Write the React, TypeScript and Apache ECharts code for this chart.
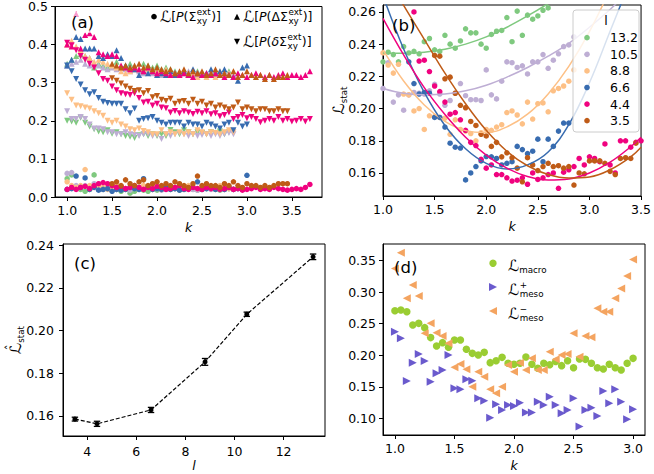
import React, { useEffect, useRef } from "react";
import * as echarts from "echarts";

const FONT = "DejaVu Sans";
const FS = 12.5;
const SUBFS = 8.75;
const LCAL = 15.5;

// k grid (step 0.05)
const K = [1.0, 1.05, 1.1, 1.15, 1.2, 1.25, 1.3, 1.35, 1.4, 1.45, 1.5, 1.55, 1.6, 1.65, 1.7, 1.75, 1.8, 1.85, 1.9, 1.95,
  2.0, 2.05, 2.1, 2.15, 2.2, 2.25, 2.3, 2.35, 2.4, 2.45, 2.5, 2.55, 2.6, 2.65, 2.7, 2.75, 2.8, 2.85, 2.9, 2.95,
  3.0, 3.05, 3.1, 3.15, 3.2, 3.25, 3.3, 3.35, 3.4, 3.45, 3.5, 3.55, 3.6, 3.65, 3.7];

const L_LABELS = ["13.2", "10.5", "8.8", "6.6", "4.4", "3.5"];
const L_COLORS = ["#7fc97f", "#beaed4", "#fdc086", "#386cb0", "#f0027f", "#bf5b17"];

// ---------- panel (a) ----------
const A_START = [1.0, 1.0, 1.0, 1.0, 1.0, 1.5];

const A_SIG_132 = [0.048, 0.058, 0.025, 0.02, 0.015, 0.02, 0.058, 0.025, 0.02, 0.022, 0.018, 0.02, 0.015, 0.02, 0.01, 0.015, 0.02, 0.018, 0.015, 0.02, 0.018, 0.025, 0.03, 0.02, 0.022, 0.018, 0.02, 0.025, 0.02, 0.018, 0.02, 0.022, 0.025, 0.02, 0.018, 0.02, 0.022];
const A_SIG_105 = [0.062, 0.064, 0.03, 0.025, 0.03, 0.025, 0.035, 0.025, 0.02, 0.025, 0.022, 0.02, 0.025, 0.022, 0.018, 0.025, 0.02, 0.022, 0.025, 0.02, 0.022, 0.018, 0.02, 0.025, 0.022, 0.02, 0.025, 0.022, 0.02, 0.018, 0.022, 0.025, 0.02, 0.022, 0.025, 0.02, 0.022, 0.02];
const A_SIG_88 = [0.04, 0.03, 0.025, 0.03, 0.072, 0.03, 0.025, 0.03, 0.025, 0.02, 0.025, 0.03, 0.025, 0.022, 0.025, 0.028, 0.025, 0.03, 0.025, 0.022, 0.025, 0.02, 0.025, 0.028, 0.025, 0.022, 0.025, 0.03, 0.025, 0.022, 0.025, 0.028, 0.025, 0.022, 0.03, 0.025, 0.022, 0.02];
const A_SIG_66 = [0.02, 0.022, 0.055, 0.025, 0.05, 0.02, 0.025, 0.018, 0.02, 0.022, 0.015, 0.02, 0.018, 0.02, 0.025, 0.022, 0.02, 0.048, 0.025, 0.02, 0.022, 0.02, 0.025, 0.02, 0.022, 0.018, 0.02, 0.022, 0.025, 0.04, 0.02, 0.022, 0.025, 0.02, 0.022, 0.02, 0.025, 0.02, 0.022, 0.02, 0.057];
const A_SIG_44 = [0.02, 0.025, 0.02, 0.025, 0.028, 0.022, 0.03, 0.035, 0.038, 0.035, 0.03, 0.025, 0.028, 0.022, 0.025, 0.03, 0.025, 0.02, 0.025, 0.022, 0.028, 0.025, 0.02, 0.022, 0.025, 0.03, 0.022, 0.02, 0.025, 0.022, 0.02, 0.025, 0.022, 0.025, 0.02, 0.022, 0.025, 0.02, 0.022, 0.018, 0.02, 0.022, 0.025, 0.02, 0.022, 0.02, 0.025, 0.022, 0.02, 0.018, 0.02, 0.022, 0.02, 0.025, 0.033];
const A_SIG_35 = [0.035, 0.04, 0.03, 0.045, 0.035, 0.03, 0.04, 0.045, 0.03, 0.035, 0.04, 0.03, 0.035, 0.03, 0.04, 0.035, 0.03, 0.025, 0.035, 0.055, 0.03, 0.035, 0.03, 0.03, 0.025, 0.035, 0.03, 0.04, 0.03, 0.025, 0.035, 0.03, 0.03, 0.025, 0.03, 0.025, 0.03, 0.035, 0.035, 0.035];

const A_DEL_132 = [0.35, 0.36, 0.37, 0.375, 0.37, 0.365, 0.34, 0.35, 0.345, 0.34, 0.345, 0.355, 0.34, 0.345, 0.35, 0.34, 0.335, 0.35, 0.345, 0.34, 0.345, 0.335, 0.34, 0.335, 0.33, 0.325, 0.33, 0.325, 0.32, 0.33, 0.325, 0.32, 0.325, 0.33, 0.325, 0.32, 0.33];
const A_DEL_105 = [0.345, 0.35, 0.355, 0.36, 0.35, 0.345, 0.35, 0.345, 0.34, 0.335, 0.34, 0.335, 0.34, 0.335, 0.33, 0.335, 0.33, 0.325, 0.33, 0.325, 0.33, 0.32, 0.325, 0.32, 0.325, 0.32, 0.325, 0.33, 0.32, 0.325, 0.32, 0.325, 0.33, 0.32, 0.325, 0.33, 0.325, 0.32];
const A_DEL_88 = [0.40, 0.41, 0.395, 0.385, 0.37, 0.365, 0.355, 0.36, 0.355, 0.35, 0.345, 0.34, 0.33, 0.325, 0.33, 0.335, 0.335, 0.33, 0.335, 0.33, 0.33, 0.325, 0.335, 0.33, 0.32, 0.325, 0.33, 0.32, 0.325, 0.315, 0.32, 0.315, 0.32, 0.315, 0.33, 0.32, 0.325, 0.33];
const A_DEL_66 = [0.345, 0.36, 0.42, 0.415, 0.39, 0.39, 0.39, 0.37, 0.365, 0.375, 0.37, 0.385, 0.365, 0.345, 0.34, 0.335, 0.32, 0.33, 0.325, 0.33, 0.32, 0.325, 0.32, 0.33, 0.32, 0.325, 0.33, 0.32, 0.335, 0.325, 0.32, 0.325, 0.335, 0.325, 0.33, 0.335, 0.32, 0.315, 0.305, 0.34, 0.345];
const A_DEL_44 = [0.40, 0.395, 0.48, 0.39, 0.425, 0.43, 0.42, 0.38, 0.375, 0.37, 0.375, 0.37, 0.345, 0.34, 0.335, 0.34, 0.335, 0.33, 0.34, 0.33, 0.325, 0.33, 0.325, 0.32, 0.325, 0.32, 0.325, 0.32, 0.315, 0.325, 0.32, 0.325, 0.32, 0.325, 0.32, 0.315, 0.32, 0.315, 0.325, 0.32, 0.315, 0.32, 0.325, 0.32, 0.315, 0.32, 0.315, 0.32, 0.325, 0.315, 0.32, 0.32, 0.315, 0.32, 0.33];
const A_DEL_35 = [0.35, 0.345, 0.34, 0.345, 0.34, 0.345, 0.35, 0.34, 0.345, 0.335, 0.34, 0.335, 0.33, 0.335, 0.325, 0.33, 0.335, 0.325, 0.33, 0.325, 0.33, 0.32, 0.325, 0.335, 0.32, 0.325, 0.32, 0.33, 0.315, 0.32, 0.33, 0.32, 0.315, 0.32, 0.31, 0.32, 0.31, 0.315, 0.315, 0.32];

const A_LOW_132 = [0.2, 0.198, 0.195, 0.208, 0.195, 0.185, 0.178, 0.172, 0.17, 0.175, 0.166, 0.17, 0.165, 0.16, 0.158, 0.155, 0.162, 0.165, 0.16, 0.165, 0.16, 0.165, 0.16, 0.176, 0.17, 0.165, 0.175, 0.17, 0.165, 0.17, 0.168, 0.165, 0.17, 0.168, 0.172, 0.165, 0.17];
const A_LOW_105 = [0.225, 0.205, 0.205, 0.21, 0.205, 0.19, 0.18, 0.18, 0.178, 0.17, 0.17, 0.165, 0.165, 0.17, 0.165, 0.163, 0.16, 0.165, 0.165, 0.16, 0.163, 0.152, 0.165, 0.16, 0.165, 0.168, 0.165, 0.16, 0.165, 0.16, 0.163, 0.165, 0.16, 0.165, 0.16, 0.165, 0.168, 0.165];
const A_LOW_88 = [0.272, 0.255, 0.24, 0.238, 0.235, 0.232, 0.225, 0.22, 0.213, 0.2, 0.195, 0.2, 0.19, 0.185, 0.178, 0.175, 0.18, 0.173, 0.17, 0.165, 0.165, 0.175, 0.165, 0.17, 0.165, 0.17, 0.165, 0.17, 0.165, 0.175, 0.17, 0.165, 0.17, 0.168, 0.165, 0.17, 0.175, 0.17];
const A_LOW_66 = [0.345, 0.33, 0.31, 0.295, 0.28, 0.27, 0.275, 0.26, 0.25, 0.247, 0.245, 0.245, 0.245, 0.23, 0.22, 0.232, 0.2, 0.205, 0.207, 0.21, 0.2, 0.195, 0.19, 0.195, 0.195, 0.195, 0.185, 0.195, 0.19, 0.19, 0.185, 0.195, 0.19, 0.185, 0.18, 0.19, 0.195, 0.175, 0.195, 0.185, 0.19];
const A_LOW_44 = [0.405, 0.398, 0.385, 0.37, 0.36, 0.35, 0.34, 0.325, 0.31, 0.305, 0.29, 0.28, 0.272, 0.27, 0.268, 0.272, 0.26, 0.248, 0.25, 0.24, 0.245, 0.235, 0.233, 0.222, 0.226, 0.22, 0.225, 0.222, 0.218, 0.224, 0.22, 0.225, 0.217, 0.22, 0.212, 0.215, 0.222, 0.205, 0.21, 0.215, 0.207, 0.21, 0.205, 0.196, 0.2, 0.205, 0.2, 0.21, 0.2, 0.205, 0.198, 0.2, 0.205, 0.198, 0.205];
const A_LOW_35 = [0.312, 0.305, 0.298, 0.29, 0.284, 0.278, 0.28, 0.272, 0.278, 0.262, 0.265, 0.255, 0.252, 0.258, 0.245, 0.25, 0.252, 0.245, 0.255, 0.245, 0.25, 0.24, 0.245, 0.235, 0.24, 0.235, 0.23, 0.235, 0.248, 0.23, 0.235, 0.23, 0.225, 0.23, 0.23, 0.225, 0.225, 0.23, 0.225, 0.225];

const A_SIG = [A_SIG_132, A_SIG_105, A_SIG_88, A_SIG_66, A_SIG_44, A_SIG_35];
const A_DEL = [A_DEL_132, A_DEL_105, A_DEL_88, A_DEL_66, A_DEL_44, A_DEL_35];
const A_LOW = [A_LOW_132, A_LOW_105, A_LOW_88, A_LOW_66, A_LOW_44, A_LOW_35];

const A_XTICKS = [1.0, 1.5, 2.0, 2.5, 3.0, 3.5];
const A_YTICKS = [0.0, 0.1, 0.2, 0.3, 0.4, 0.5];

// ---------- panel (b) ----------
const B_START = [1.0, 1.0, 1.0, 1.25, 1.3, 1.5];
const B_132 = [0.229, 0.235, 0.2335, 0.229, 0.2385, 0.2345, 0.2355, 0.234, 0.2415, 0.2435, 0.2365, 0.2355, 0.2455, 0.240, 0.2375, 0.242, 0.2495, 0.247, 0.247, 0.240, 0.2375, 0.246, 0.248, 0.2485, 0.2565, 0.2415, 0.2605, 0.2455, 0.258, 0.2555, 0.2575, 0.261, 0.2625];
const B_105 = [0.2125, 0.2285, 0.2040, 0.2085, 0.1990, 0.2085, 0.2100, 0.2095, 0.2090, 0.2110, 0.2150, 0.2090, 0.2020, 0.2050, 0.2095, 0.2155, 0.2080, 0.2055, 0.2055, 0.2050, 0.2240, 0.2085, 0.2060, 0.2170, 0.2290, 0.2285, 0.2255, 0.2265, 0.2215, 0.2290, 0.2290, 0.2335, 0.2250, 0.2300, 0.2340, 0.2385, 0.2395, 0.2445];
const B_88 = [0.2345, 0.2270, 0.2220, 0.2275, 0.2090, 0.2085, 0.1985, 0.2000, 0.1870, 0.1955, 0.1950, 0.1945, 0.1940, 0.1840, 0.1930, 0.1870, 0.1860, 0.1845, 0.1800, 0.1850, 0.1870, 0.1865, 0.1885, 0.1900, 0.1975, 0.1985, 0.1960, 0.1905, 0.2040, 0.1935, 0.2030, 0.2035, 0.1980, 0.2110, 0.2125, 0.2140, 0.2170, 0.2240];
const B_66 = [0.2290, 0.2155, 0.2090, 0.2100, 0.2095, 0.1945, 0.1945, 0.1885, 0.1785, 0.1760, 0.1755, 0.1557, 0.1600, 0.1640, 0.1675, 0.1702, 0.1700, 0.1690, 0.1650, 0.1660, 0.1670, 0.1765, 0.1745, 0.1720, 0.1735, 0.1810, 0.1670, 0.1810, 0.1765, 0.1860, 0.1910, 0.1910];
const B_44 = [0.2600, 0.2295, 0.2300, 0.2230, 0.2140, 0.2105, 0.2040, 0.1965, 0.1975, 0.1930, 0.1865, 0.1790, 0.1770, 0.1685, 0.1630, 0.1650, 0.1590, 0.1590, 0.1570, 0.1550, 0.1555, 0.1570, 0.1530, 0.1600, 0.1560, 0.1570, 0.1590, 0.1600, 0.1505, 0.1605, 0.1620, 0.1640, 0.1690, 0.1650, 0.1700, 0.1690, 0.1670, 0.1780, 0.1650, 0.1600, 0.1800, 0.1800, 0.1760, 0.1790, 0.1800];
const B_35 = [0.2330, 0.2325, 0.2185, 0.2195, 0.2095, 0.2020, 0.2005, 0.1920, 0.1895, 0.1840, 0.1830, 0.1765, 0.1790, 0.1700, 0.1725, 0.1695, 0.1630, 0.1545, 0.1695, 0.1650, 0.1615, 0.1640, 0.1660, 0.1640, 0.1645, 0.1630, 0.1640, 0.1525, 0.1600, 0.1595, 0.1675, 0.1675, 0.1675, 0.1660, 0.1610, 0.1590, 0.1690, 0.1695, 0.1690, 0.1785];
const B_PTS = [B_132, B_105, B_88, B_66, B_44, B_35];

const FIT_132_K = [1.0, 1.2, 1.4, 1.6, 1.8, 2.0, 2.2, 2.4, 2.6, 2.7];
const FIT_132_V = [0.2345, 0.2343, 0.2350, 0.2368, 0.2400, 0.2445, 0.2505, 0.2575, 0.2652, 0.2695];
const FIT_105_K = [1.0, 1.2, 1.4, 1.6, 1.8, 2.0, 2.2, 2.4, 2.6, 2.8, 3.0, 3.2, 3.3];
const FIT_105_V = [0.2125, 0.2095, 0.2085, 0.2090, 0.2110, 0.2145, 0.2195, 0.2255, 0.2325, 0.2405, 0.2505, 0.2615, 0.2680];
const FIT_88_K = [1.0, 1.2, 1.4, 1.6, 1.8, 2.0, 2.2, 2.4, 2.6, 2.8, 3.0, 3.2];
const FIT_88_V = [0.2364, 0.2171, 0.2022, 0.1920, 0.1863, 0.1851, 0.1886, 0.1965, 0.2091, 0.2262, 0.2478, 0.2741];
const FIT_66_K = [1.0, 1.2, 1.4, 1.6, 1.8, 2.0, 2.2, 2.4, 2.6, 2.8, 3.0, 3.2, 3.35];
const FIT_66_V = [0.2700, 0.2370, 0.2100, 0.1895, 0.1750, 0.1660, 0.1625, 0.1650, 0.1730, 0.1900, 0.2160, 0.2480, 0.2720];
const FIT_44_K = [1.0, 1.2, 1.4, 1.6, 1.8, 2.0, 2.2, 2.4, 2.6, 2.8, 3.0, 3.2, 3.4, 3.5];
const FIT_44_V = [0.2560, 0.2333, 0.2130, 0.1963, 0.1822, 0.1711, 0.1630, 0.1578, 0.1556, 0.1563, 0.1600, 0.1667, 0.1763, 0.1822];
const FIT_35_K = [1.15, 1.2, 1.4, 1.6, 1.8, 2.0, 2.2, 2.4, 2.6, 2.8, 3.0, 3.2, 3.4, 3.5];
const FIT_35_V = [0.2700, 0.2640, 0.2430, 0.2220, 0.2030, 0.1865, 0.1735, 0.1645, 0.1590, 0.1568, 0.1575, 0.1620, 0.1700, 0.1760];
const FIT_K = [FIT_132_K, FIT_105_K, FIT_88_K, FIT_66_K, FIT_44_K, FIT_35_K];
const FIT_V = [FIT_132_V, FIT_105_V, FIT_88_V, FIT_66_V, FIT_44_V, FIT_35_V];

const B_XTICKS = [1.0, 1.5, 2.0, 2.5, 3.0, 3.5];
const B_YTICKS = [0.16, 0.18, 0.20, 0.22, 0.24, 0.26];

// ---------- panel (c) ----------
const C_L = [3.5, 4.4, 6.6, 8.8, 10.5, 13.2];
const C_LHAT = [0.1585, 0.1563, 0.1628, 0.1853, 0.2076, 0.2345];
const C_ERR = [0.0009, 0.0012, 0.0012, 0.0016, 0.0010, 0.0013];
const C_XTICKS = [4, 6, 8, 10, 12];
const C_YTICKS = [0.16, 0.18, 0.20, 0.22, 0.24];

// ---------- panel (d) ----------
const D_K = K.slice(0, 41);
const D_MACRO = [0.2707, 0.2718, 0.2690, 0.2480, 0.2506, 0.2438, 0.2280, 0.2147, 0.2200, 0.2126, 0.2242, 0.2242, 0.2094, 0.2030, 0.2004, 0.2046, 0.1883, 0.1914, 0.1967, 0.1872, 0.1856, 0.1872, 0.1972, 0.1856, 0.1793, 0.1872, 0.1850, 0.1900, 0.1835, 0.1914, 0.1803, 0.1941, 0.1935, 0.1872, 0.1803, 0.1782, 0.1856, 0.1803, 0.1766, 0.1872, 0.1951];
const D_MESO_P = [0.2374, 0.2268, 0.1592, 0.1883, 0.2020, 0.1909, 0.1581, 0.1714, 0.1766, 0.2004, 0.1476, 0.1460, 0.1618, 0.1597, 0.1317, 0.1280, 0.1010, 0.1222, 0.1132, 0.1211, 0.1196, 0.1248, 0.1090, 0.1090, 0.1264, 0.1211, 0.1343, 0.1211, 0.1079, 0.1132, 0.1317, 0.0868, 0.1132, 0.1169, 0.1037, 0.1434, 0.1238, 0.1460, 0.1264, 0.0984, 0.1143];
const D_MESO_M = [0.3378, 0.3627, 0.2903, 0.3114, 0.2940, 0.2348, 0.2506, 0.2358, 0.2306, 0.2189, 0.1809, 0.1862, 0.1777, 0.1500, 0.1740, 0.1660, 0.1460, 0.1396, 0.1500, 0.1846, 0.1740, 0.1883, 0.1766, 0.1951, 0.1766, 0.1766, 0.2057, 0.1935, 0.2004, 0.2020, 0.2348, 0.1978, 0.2306, 0.2284, 0.2744, 0.2691, 0.2691, 0.2903, 0.3061, 0.3257, 0.3521];
const D_COLORS = ["#9acd32", "#6a5acd", "#f4a460"];
const D_XTICKS = [1.0, 1.5, 2.0, 2.5, 3.0];
const D_YTICKS = [0.10, 0.15, 0.20, 0.25, 0.30, 0.35];

// ---------- helpers ----------
let measureCtx: CanvasRenderingContext2D | null = null;
function tw(t: string, size: number, italic = false): number {
  if (!measureCtx && typeof document !== "undefined") {
    measureCtx = document.createElement("canvas").getContext("2d");
  }
  if (!measureCtx) return t.length * size * 0.6;
  measureCtx.font = `${italic ? "italic " : ""}${size}px "${FONT}"`;
  return measureCtx.measureText(t).width;
}

function txt(text: string, x: number, y: number, size: number, italic = false, extra: any = {}) {
  return {
    type: "text",
    x,
    y,
    z: 100,
    silent: true,
    style: {
      text,
      fontSize: size,
      fontFamily: FONT,
      fontStyle: italic ? "italic" : "normal",
      fill: "#000",
      align: "left",
      verticalAlign: "middle",
      textAlign: "left",
      textVerticalAlign: "middle",
      ...extra,
    },
  };
}

type Piece = { t?: string; italic?: boolean; size?: number; dy?: number; sup?: string; sub?: string; hat?: boolean };

function mathText(pieces: Piece[], x: number, y: number, anchor: "left" | "center", rotation = 0) {
  const kids: any[] = [];
  let cx = 0;
  for (const p of pieces) {
    if (p.sup !== undefined || p.sub !== undefined) {
      const w = Math.max(tw(p.sup || "", SUBFS), tw(p.sub || "", SUBFS));
      if (p.sup) kids.push(txt(p.sup, cx + 0.5, -4.8, SUBFS));
      if (p.sub) kids.push(txt(p.sub, cx + 0.5, 4.6, SUBFS));
      cx += w + 1;
    } else {
      const s = p.size ?? FS;
      const t = p.t || "";
      const w = tw(t, s, !!p.italic);
      kids.push(txt(t, cx, p.dy ?? 0, s, !!p.italic));
      if (p.hat) {
        const hw = tw("ˆ", FS);
        kids.push(txt("ˆ", cx + w / 2 - hw / 2 + 1, -s * 0.36, FS));
      }
      cx += w;
    }
  }
  const off = anchor === "center" ? -cx / 2 : 0;
  kids.forEach((k) => (k.x += off));
  return { type: "group", x, y, rotation, children: kids };
}

function kIndex(k: number) {
  return K.findIndex((v) => Math.abs(v - k) < 1e-6);
}
function withK(start: number, vals: number[]) {
  const i0 = kIndex(start);
  return vals.map((v, i) => [K[i0 + i], v]);
}

const GRIDS = [
  { left: 55, top: 5, width: 267, height: 192 },
  { left: 383, top: 5, width: 262, height: 191 },
  { left: 63, top: 244, width: 262, height: 192 },
  { left: 383, top: 244, width: 262, height: 191 },
];

function vAxis(gridIndex: number, min: number, max: number, ticks: number[], dec: number, extra: any = {}, margin = 7) {
  return {
    type: "value",
    gridIndex,
    min,
    max,
    axisLine: { show: true, onZero: false, lineStyle: { color: "#000", width: 1 } },
    axisTick: { show: true, inside: false, length: 4, customValues: ticks, lineStyle: { color: "#000", width: 1 } },
    axisLabel: {
      show: true,
      customValues: ticks,
      formatter: (v: number) => Number(v).toFixed(dec),
      color: "#000",
      fontSize: FS,
      fontFamily: FONT,
      margin,
    },
    splitLine: { show: false },
    ...extra,
  };
}

function xName(name: string, gap: number) {
  return {
    name,
    nameLocation: "middle",
    nameGap: gap,
    nameTextStyle: { fontStyle: "italic", fontSize: FS, fontFamily: FONT, color: "#000" },
  };
}

function scatter(g: number, data: number[][], symbol: string, size: number, rot: number, color: string) {
  return {
    type: "scatter",
    xAxisIndex: g,
    yAxisIndex: g,
    data,
    symbol,
    symbolSize: size,
    symbolRotate: rot,
    itemStyle: { color, opacity: 1 },
    silent: true,
    clip: true,
    z: 2,
  };
}

function buildOption() {
  const series: any[] = [];

  // (a)
  for (let c = 0; c < 6; c++) {
    const col = L_COLORS[c];
    series.push(scatter(0, withK(A_START[c], A_SIG[c]), "circle", 5.5, 0, col));
    series.push(scatter(0, withK(A_START[c], A_DEL[c]), "triangle", 6, 0, col));
    series.push(scatter(0, withK(A_START[c], A_LOW[c]), "triangle", 6, 180, col));
  }

  // (b)
  for (let c = 0; c < 6; c++) {
    const col = L_COLORS[c];
    series.push(scatter(1, withK(B_START[c], B_PTS[c]), "circle", 5.5, 0, col));
    series.push({
      type: "line",
      xAxisIndex: 1,
      yAxisIndex: 1,
      data: FIT_K[c].map((k, i) => [k, FIT_V[c][i]]),
      smooth: 0.4,
      symbol: "none",
      showSymbol: false,
      lineStyle: { color: col, width: 1.5 },
      clip: true,
      silent: true,
      z: 3,
    });
  }

  // (c)
  series.push({
    type: "line",
    xAxisIndex: 2,
    yAxisIndex: 2,
    data: C_L.map((l, i) => [l, C_LHAT[i]]),
    symbol: "circle",
    symbolSize: 5,
    showSymbol: true,
    itemStyle: { color: "#000" },
    lineStyle: { color: "#000", width: 1.2, type: [4, 2] },
    silent: true,
    z: 3,
  });
  series.push({
    type: "custom",
    xAxisIndex: 2,
    yAxisIndex: 2,
    data: C_L.map((l, i) => [l, C_LHAT[i] - C_ERR[i], C_LHAT[i] + C_ERR[i]]),
    silent: true,
    z: 4,
    renderItem: (params: any, api: any) => {
      const x = api.value(0);
      const p1 = api.coord([x, api.value(1)]);
      const p2 = api.coord([x, api.value(2)]);
      const cw = 3.2;
      const st = { stroke: "#000", lineWidth: 1.3 };
      return {
        type: "group",
        children: [
          { type: "line", shape: { x1: p1[0], y1: p1[1], x2: p2[0], y2: p2[1] }, style: st },
          { type: "line", shape: { x1: p1[0] - cw, y1: p1[1], x2: p1[0] + cw, y2: p1[1] }, style: st },
          { type: "line", shape: { x1: p2[0] - cw, y1: p2[1], x2: p2[0] + cw, y2: p2[1] }, style: st },
        ],
      };
    },
  });

  // (d)
  series.push(scatter(3, D_K.map((k, i) => [k, D_MACRO[i]]), "circle", 7.5, 0, D_COLORS[0]));
  series.push(scatter(3, D_K.map((k, i) => [k, D_MESO_P[i]]), "triangle", 8, -90, D_COLORS[1]));
  series.push(scatter(3, D_K.map((k, i) => [k, D_MESO_M[i]]), "triangle", 8, 90, D_COLORS[2]));

  const graphic: any[] = [];

  // panel labels
  graphic.push(txt("(a)", 69, 22.5, 16.5, false, { backgroundColor: "rgba(255,255,255,0.6)", padding: [2, 2, 2, 2] }));
  graphic.push(txt("(b)", 392, 25.5, 16.5));
  graphic.push(txt("(c)", 74, 263, 16.5));
  graphic.push(txt("(d)", 394, 267.5, 16.5));

  // (a) legend
  const ly1 = 16.7;
  const ly2 = 41.7;
  graphic.push({ type: "circle", z: 100, silent: true, shape: { cx: 154, cy: ly1, r: 2.8 }, style: { fill: "#000" } });
  graphic.push({ type: "polygon", z: 100, silent: true, shape: { points: [[237, ly1 - 3], [240, ly1 + 3], [234, ly1 + 3]] }, style: { fill: "#000" } });
  graphic.push({ type: "polygon", z: 100, silent: true, shape: { points: [[237, ly2 + 3], [240, ly2 - 3], [234, ly2 - 3]] }, style: { fill: "#000" } });
  graphic.push(mathText([{ t: "ℒ", size: LCAL }, { t: "[" }, { t: "P", italic: true }, { t: "(Σ" }, { sup: "ext", sub: "xy" }, { t: ")]" }], 160, ly1, "left"));
  graphic.push(mathText([{ t: "ℒ", size: LCAL }, { t: "[" }, { t: "P", italic: true }, { t: "(ΔΣ" }, { sup: "ext", sub: "xy" }, { t: ")]" }], 243, ly1, "left"));
  graphic.push(mathText([{ t: "ℒ", size: LCAL }, { t: "[" }, { t: "P", italic: true }, { t: "(" }, { t: "δ", italic: true }, { t: "Σ" }, { sup: "ext", sub: "xy" }, { t: ")]" }], 243, ly2, "left"));

  // (b) legend
  graphic.push({
    type: "rect",
    z: 99,
    silent: true,
    shape: { x: 573, y: 10, width: 66, height: 122, r: 3 },
    style: { fill: "rgba(255,255,255,0.8)", stroke: "#cccccc", lineWidth: 1 },
  });
  graphic.push(txt("l", 606, 20, FS, false, { align: "center", textAlign: "center" }));
  L_LABELS.forEach((lab, i) => {
    const y = 37.7 + i * 16.6;
    graphic.push({ type: "circle", z: 100, silent: true, shape: { cx: 587, cy: y, r: 2.8 }, style: { fill: L_COLORS[i] } });
    graphic.push(txt(lab, 610, y, FS));
  });

  // (d) legend
  const dy = [263.3, 287, 311];
  graphic.push({ type: "circle", z: 100, silent: true, shape: { cx: 493, cy: dy[0], r: 3.7 }, style: { fill: D_COLORS[0] } });
  graphic.push({ type: "polygon", z: 100, silent: true, shape: { points: [[489, dy[1] - 4], [497, dy[1]], [489, dy[1] + 4]] }, style: { fill: D_COLORS[1] } });
  graphic.push({ type: "polygon", z: 100, silent: true, shape: { points: [[497, dy[2] - 4], [489, dy[2]], [497, dy[2] + 4]] }, style: { fill: D_COLORS[2] } });
  graphic.push(mathText([{ t: "ℒ", size: LCAL }, { t: "macro", size: SUBFS, dy: 4 }], 508, dy[0] + 2.5, "left"));
  graphic.push(mathText([{ t: "ℒ", size: LCAL }, { sup: "+", sub: "meso" }], 508, dy[1] + 2.5, "left"));
  graphic.push(mathText([{ t: "ℒ", size: LCAL }, { sup: "−", sub: "meso" }], 508, dy[2] + 2.5, "left"));

  // y-axis titles
  graphic.push(mathText([{ t: "ℒ", size: LCAL }, { t: "stat", size: SUBFS, dy: 4.5 }], 339, 100.5, "center", Math.PI / 2));
  graphic.push(mathText([{ t: "ℒ", size: LCAL, hat: true }, { t: "stat", size: SUBFS, dy: 4.5 }], 16, 340, "center", Math.PI / 2));

  return {
    animation: false,
    backgroundColor: "#ffffff",
    textStyle: { fontFamily: FONT },
    grid: GRIDS.map((g) => ({ ...g, show: true, borderColor: "#000", borderWidth: 1, backgroundColor: "transparent", containLabel: false })),
    xAxis: [
      vAxis(0, 0.865, 3.835, A_XTICKS, 1, xName("k", 24)),
      vAxis(1, 1.0, 3.5, B_XTICKS, 1, xName("k", 24)),
      vAxis(2, 3.015, 13.685, C_XTICKS, 0, xName("l", 23), 9),
      vAxis(3, 0.9, 3.1, D_XTICKS, 1, xName("k", 24)),
    ],
    yAxis: [
      vAxis(0, 0, 0.5, A_YTICKS, 1),
      vAxis(1, 0.1457, 0.2643, B_YTICKS, 2),
      vAxis(2, 0.1506, 0.2405, C_YTICKS, 2, {}, 9),
      vAxis(3, 0.0735, 0.3765, D_YTICKS, 2),
    ],
    series,
    graphic: { elements: graphic },
  };
}

export default function App() {
  const ref = useRef<HTMLDivElement>(null);
  useEffect(() => {
    if (!ref.current) return;
    const chart = echarts.init(ref.current, null, { renderer: "svg" });
    chart.setOption(buildOption() as any);
    return () => {
      chart.dispose();
    };
  }, []);
  return (
    <div
      ref={ref}
      style={{ position: "fixed", left: 0, top: 0, width: 654, height: 474, background: "#ffffff" }}
    />
  );
}
